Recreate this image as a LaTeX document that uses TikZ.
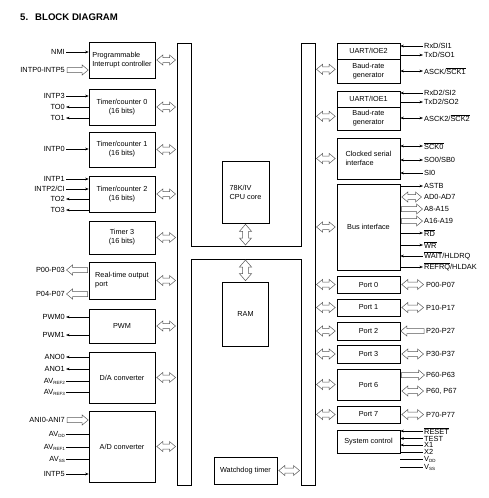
\documentclass[tikz,border=0pt]{standalone}
\usepackage{fontspec}
\setmainfont{Liberation Sans}
\usetikzlibrary{calc,arrows.meta}
\newcommand{\lowsub}[1]{\raisebox{-0.25ex}{\fontsize{4.5}{5}\selectfont #1}}
\newcommand{\ovl}[1]{$\overline{\mbox{#1}}$}
\tikzset{
 blk/.style={draw, line width=0.6pt, inner sep=1pt, font=\fontsize{7.3}{9}\selectfont, align=center},
 lblL/.style={anchor=east, inner sep=1pt, font=\fontsize{7.4}{8}\selectfont},
 lblR/.style={anchor=west, inner sep=1pt, font=\fontsize{7.4}{8}\selectfont},
 sig/.style={line width=0.5pt},
 hol/.style={draw=black!65, fill=white, line width=0.5pt, line join=miter},
 >={Stealth[length=3.5pt,width=2.6pt]}
}
% hollow double arrow, #1 left end, #2 right end
\newcommand{\hdbl}[2]{\path[hol] let \p1=(#1), \p2=(#2), \n1={\x1+1.5pt}, \n2={\x2-1.5pt} in
 (\n1,\y1) -- (\n1+6pt,\y1+5pt) -- (\n1+6pt,\y1+2.5pt) -- (\n2-6pt,\y1+2.5pt) -- (\n2-6pt,\y1+5pt) -- (\n2,\y1)
 -- (\n2-6pt,\y1-5pt) -- (\n2-6pt,\y1-2.5pt) -- (\n1+6pt,\y1-2.5pt) -- (\n1+6pt,\y1-5pt) -- cycle;}
% hollow arrow pointing right, head at #2
\newcommand{\hright}[2]{\path[hol] let \p1=(#1), \p2=(#2), \n1={\x1+1pt}, \n2={\x2-0.5pt} in
 (\n1,\y1+2.5pt) -- (\n2-6pt,\y1+2.5pt) -- (\n2-6pt,\y1+5pt) -- (\n2,\y1) -- (\n2-6pt,\y1-5pt) -- (\n2-6pt,\y1-2.5pt) -- (\n1,\y1-2.5pt) -- cycle;}
% hollow arrow pointing left, head at #1
\newcommand{\hleft}[2]{\path[hol] let \p1=(#1), \p2=(#2), \n1={\x1+0.5pt}, \n2={\x2-1pt} in
 (\n2,\y1+2.5pt) -- (\n1+6pt,\y1+2.5pt) -- (\n1+6pt,\y1+5pt) -- (\n1,\y1) -- (\n1+6pt,\y1-5pt) -- (\n1+6pt,\y1-2.5pt) -- (\n2,\y1-2.5pt) -- cycle;}
% hollow vertical double arrow, #1 top, #2 bottom
\newcommand{\vdbl}[2]{\path[hol] let \p1=(#1), \p2=(#2), \n1={\y1-1pt}, \n2={\y2+1pt} in
 (\x1,\n1) -- (\x1+6pt,\n1-7pt) -- (\x1+3pt,\n1-7pt) -- (\x1+3pt,\n2+7pt) -- (\x1+6pt,\n2+7pt) -- (\x1,\n2)
 -- (\x1-6pt,\n2+7pt) -- (\x1-3pt,\n2+7pt) -- (\x1-3pt,\n1-7pt) -- (\x1-6pt,\n1-7pt) -- cycle;}

\begin{document}
\begin{tikzpicture}[x=1pt,y=-1pt]
\useasboundingbox (0,0) rectangle (489,498);

\node[anchor=west, inner sep=0, font=\fontsize{9.6}{11}\selectfont\bfseries] (title) at (20,17) {5.\hspace{7pt}BLOCK DIAGRAM};

% bus
\draw[line width=0.7pt] (177,43) -- (191,43) -- (191,246) -- (301,246) -- (301,43) -- (315,43) -- (315,485)
  -- (301,485) -- (301,259) -- (191,259) -- (191,485) -- (177,485) -- cycle;
\coordinate (busL) at (177,0);
\coordinate (busR) at (315,0);
\coordinate (busRi) at (301,0);
\coordinate (xbarA) at (245.5,246);
\coordinate (xbarB) at (245.5,259);

% centre blocks
\node[blk, align=left, minimum width=47pt, minimum height=62pt] (cpu) at (245.5,192) {78K/IV\\CPU core};
\node[blk, minimum width=46pt, minimum height=64pt] (ram) at (245.5,314) {RAM};
\node[blk, minimum width=63pt, minimum height=27pt] (wdt) at (245.5,470.5) {Watchdog timer};
\vdbl{cpu.south}{xbarA}
\vdbl{xbarB}{ram.north}
\hdbl{wdt.east}{wdt.east -| busRi}

% left blocks
\node[blk, align=left, minimum width=66pt, minimum height=36pt] (pic) at (122,60) {Programmable\\Interrupt controller};
\node[blk, minimum width=66pt, minimum height=36pt] (t0) at (122,107) {Timer/counter 0\\(16 bits)};
\node[blk, minimum width=66pt, minimum height=35pt] (t1) at (122,149.5) {Timer/counter 1\\(16 bits)};
\node[blk, minimum width=66pt, minimum height=36pt] (t2) at (122,194) {Timer/counter 2\\(16 bits)};
\node[blk, minimum width=66pt, minimum height=33pt] (t3) at (122,237.5) {Timer 3\\(16 bits)};
\node[blk, align=left, minimum width=66pt, minimum height=37pt] (rto) at (122,280.5) {Real-time output\\port\hspace{40pt}};
\node[blk, minimum width=66pt, minimum height=34pt] (pwm) at (122,326) {PWM};
\node[blk, minimum width=66pt, minimum height=51pt] (da) at (122,377.5) {D/A converter};
\node[blk, minimum width=66pt, minimum height=71pt] (ad) at (122,446.5) {A/D converter};
\foreach \b in {pic,t0,t1,t2,t3,rto,pwm,da,ad} {\hdbl{\b.east}{\b.east -| busL}}

% left signals
\node[lblL] (nmi) at (66,52) {NMI};
\draw[sig,->] (nmi.east) -- (nmi.east -| pic.west);
\node[lblL] (intpa) at (66,70) {INTP0-INTP5};
\hright{intpa.east}{intpa.east -| pic.west}
\node[lblL] (intp3) at (66,96) {INTP3};
\draw[sig,->] (intp3.east) -- (intp3.east -| t0.west);
\node[lblL] (to0) at (66,107) {TO0};
\draw[sig,<-] (to0.east) -- (to0.east -| t0.west);
\node[lblL] (to1) at (66,118) {TO1};
\draw[sig,<-] (to1.east) -- (to1.east -| t0.west);
\node[lblL] (intp0) at (66,149) {INTP0};
\draw[sig,->] (intp0.east) -- (intp0.east -| t1.west);
\node[lblL] (intp1) at (66,179) {INTP1};
\draw[sig,->] (intp1.east) -- (intp1.east -| t2.west);
\node[lblL] (intp2) at (66,189) {INTP2/CI};
\draw[sig,->] (intp2.east) -- (intp2.east -| t2.west);
\node[lblL] (to2) at (66,199) {TO2};
\draw[sig,<-] (to2.east) -- (to2.east -| t2.west);
\node[lblL] (to3) at (66,210) {TO3};
\draw[sig,<-] (to3.east) -- (to3.east -| t2.west);
\node[lblL] (pa) at (66,270) {P00-P03};
\hleft{pa.east}{pa.east -| rto.west}
\node[lblL] (pb) at (66,294) {P04-P07};
\hleft{pb.east}{pb.east -| rto.west}
\node[lblL] (pwm0) at (66,317) {PWM0};
\draw[sig,<-] (pwm0.east) -- (pwm0.east -| pwm.west);
\node[lblL] (pwm1) at (66,335) {PWM1};
\draw[sig,<-] (pwm1.east) -- (pwm1.east -| pwm.west);
\node[lblL] (ano0) at (66,357) {ANO0};
\draw[sig,<-] (ano0.east) -- (ano0.east -| da.west);
\node[lblL] (ano1) at (66,369) {ANO1};
\draw[sig,<-] (ano1.east) -- (ano1.east -| da.west);
\node[lblL] (avr2) at (66,381) {AV\lowsub{REF2}};
\draw[sig] (avr2.east) -- (avr2.east -| da.west);
\node[lblL] (avr3) at (66,392) {AV\lowsub{REF3}};
\draw[sig] (avr3.east) -- (avr3.east -| da.west);
\node[lblL] (ani) at (66,420) {ANI0-ANI7};
\hright{ani.east}{ani.east -| ad.west}
\node[lblL] (avdd) at (66,434) {AV\lowsub{DD}};
\draw[sig] (avdd.east) -- (avdd.east -| ad.west);
\node[lblL] (avr1) at (66,447) {AV\lowsub{REF1}};
\draw[sig] (avr1.east) -- (avr1.east -| ad.west);
\node[lblL] (avss) at (66,459) {AV\lowsub{SS}};
\draw[sig] (avss.east) -- (avss.east -| ad.west);
\node[lblL] (intp5) at (66,474) {INTP5};
\draw[sig,->] (intp5.east) -- (intp5.east -| ad.west);

% right blocks
\node[blk, minimum width=63pt, minimum height=16pt] (u2a) at (368.5,51) {UART/IOE2};
\node[blk, minimum width=63pt, minimum height=24pt] (u2b) at (368.5,71) {Baud-rate\\generator};
\node[blk, minimum width=63pt, minimum height=16pt] (u1a) at (368.5,99) {UART/IOE1};
\node[blk, minimum width=63pt, minimum height=23pt] (u1b) at (368.5,118.5) {Baud-rate\\generator};
\node[blk, align=left, minimum width=63pt, minimum height=41pt] (csi) at (368.5,158.5) {Clocked serial\\interface};
\node[blk, minimum width=63pt, minimum height=86pt] (bif) at (368.5,227) {Bus interface};
\node[blk, minimum width=63pt, minimum height=17pt] (port0) at (368.5,284.5) {Port 0};
\node[blk, minimum width=63pt, minimum height=17pt] (port1) at (368.5,307.5) {Port 1};
\node[blk, minimum width=63pt, minimum height=18pt] (port2) at (368.5,331) {Port 2};
\node[blk, minimum width=63pt, minimum height=18pt] (port3) at (368.5,354) {Port 3};
\node[blk, minimum width=63pt, minimum height=31pt] (port6) at (368.5,384.5) {Port 6};
\node[blk, minimum width=63pt, minimum height=17pt] (port7) at (368.5,414.5) {Port 7};
\node[blk, minimum width=63pt, minimum height=23pt] (sys) at (368.5,441.5) {System control};

\hdbl{[yshift=-10pt]u2a.south west -| busR}{[yshift=-10pt]u2a.south west}
\hdbl{[yshift=-9pt]u1a.south west -| busR}{[yshift=-9pt]u1a.south west}
\foreach \b in {csi,bif,port0,port1,port2,port3,port6,port7} {\hdbl{\b.west -| busR}{\b.west}}

% right signals
\node[lblR] (rxd1) at (423,46) {RxD/SI1};
\draw[sig,<-] (rxd1.west -| u2a.east) -- (rxd1.west);
\node[lblR] (txd1) at (423,55) {TxD/SO1};
\draw[sig,->] (txd1.west -| u2a.east) -- (txd1.west);
\node[lblR] (asck1) at (423,71) {ASCK/\ovl{SCK1}};
\draw[sig,<->] (asck1.west -| u2b.east) -- (asck1.west);
\node[lblR] (rxd2) at (423,93) {RxD2/SI2};
\draw[sig,<-] (rxd2.west -| u1a.east) -- (rxd2.west);
\node[lblR] (txd2) at (423,102) {TxD2/SO2};
\draw[sig,->] (txd2.west -| u1a.east) -- (txd2.west);
\node[lblR] (asck2) at (423,118) {ASCK2/\ovl{SCK2}};
\draw[sig,<->] (asck2.west -| u1b.east) -- (asck2.west);
\node[lblR] (sck0) at (423,146) {\ovl{SCK0}};
\draw[sig,<->] (sck0.west -| csi.east) -- (sck0.west);
\node[lblR] (so0) at (423,160) {SO0/SB0};
\draw[sig,<->] (so0.west -| csi.east) -- (so0.west);
\node[lblR] (si0) at (423,173) {SI0};
\draw[sig,<-] (si0.west -| csi.east) -- (si0.west);
\node[lblR] (astb) at (423,186) {ASTB};
\draw[sig,->] (astb.west -| bif.east) -- (astb.west);
\node[lblR] (ad07) at (423,197) {AD0-AD7};
\hdbl{ad07.west -| bif.east}{ad07.west}
\node[lblR] (a815) at (423,209) {A8-A15};
\hright{a815.west -| bif.east}{a815.west}
\node[lblR] (a1619) at (423,221) {A16-A19};
\hright{a1619.west -| bif.east}{a1619.west}
\node[lblR] (rd) at (423,233) {\ovl{RD}};
\draw[sig,->] (rd.west -| bif.east) -- (rd.west);
\node[lblR] (wr) at (423,245) {\ovl{WR}};
\draw[sig,->] (wr.west -| bif.east) -- (wr.west);
\node[lblR] (wait) at (423,256) {\ovl{WAIT}/HLDRQ};
\draw[sig,<-] (wait.west -| bif.east) -- (wait.west);
\node[lblR] (refrq) at (423,267) {\ovl{REFRQ}/HLDAK};
\draw[sig,->] (refrq.west -| bif.east) -- (refrq.west);

\node[lblR] (p0) at (425,284.5) {P00-P07};
\hdbl{p0.west -| port0.east}{p0.west}
\node[lblR] (p1) at (425,307.5) {P10-P17};
\hdbl{p1.west -| port1.east}{p1.west}
\node[lblR] (p2) at (425,331) {P20-P27};
\hleft{p2.west -| port2.east}{p2.west}
\node[lblR] (p3) at (425,354) {P30-P37};
\hdbl{p3.west -| port3.east}{p3.west}
\node[lblR] (p6a) at (425,375) {P60-P63};
\hright{p6a.west -| port6.east}{p6a.west}
\node[lblR] (p6b) at (425,391) {P60, P67};
\hdbl{p6b.west -| port6.east}{p6b.west}
\node[lblR] (p7) at (425,414.5) {P70-P77};
\hdbl{p7.west -| port7.east}{p7.west}

\node[lblR] (reset) at (423,431) {\ovl{RESET}};
\draw[sig,<-] (reset.west -| sys.east) -- (reset.west);
\node[lblR] (test) at (423,438.5) {TEST};
\draw[sig,<-] (test.west -| sys.east) -- (test.west);
\node[lblR] (x1) at (423,445) {X1};
\draw[sig,<-] (x1.west -| sys.east) -- (x1.west);
\node[lblR] (x2) at (423,452) {X2};
\draw[sig] (x2.west -| sys.east) -- (x2.west);
\node[lblR] (vdd) at (423,459.5) {V\lowsub{DD}};
\draw[sig] (vdd.west -| sys.east) -- (vdd.west);
\node[lblR] (vss) at (423,467) {V\lowsub{SS}};
\draw[sig] (vss.west -| sys.east) -- (vss.west);
\end{tikzpicture}
\end{document}
